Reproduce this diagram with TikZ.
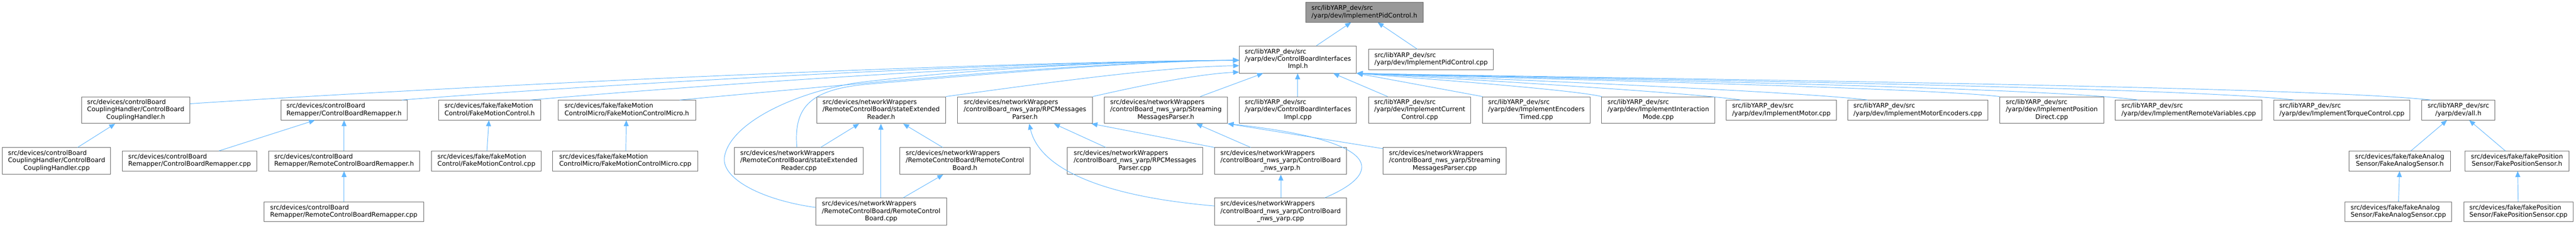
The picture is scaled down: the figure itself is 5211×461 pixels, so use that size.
\documentclass[tikz,border=0pt]{standalone}
\usepackage{fontspec}
\setmainfont{DejaVu Sans}
\usetikzlibrary{arrows.meta}
\definecolor{edgeblue}{HTML}{63B8FF}
\definecolor{boxline}{HTML}{666666}
\definecolor{rootfill}{HTML}{999999}
\newcommand{\lbA}[2]{\begin{tabular}{@{}l@{}}#1\\\multicolumn{1}{@{}c@{}}{#2}\end{tabular}}
\newcommand{\lbB}[3]{\begin{tabular}{@{}l@{}}#1\\#2\\\multicolumn{1}{@{}c@{}}{#3}\end{tabular}}
\begin{document}
\begin{tikzpicture}[x=1pt,y=-1pt,
  font=\fontsize{12.9}{15}\selectfont,
  box/.style={draw=boxline,line width=1pt,fill=white,inner sep=0pt,rectangle},
  rootbox/.style={box,fill=rootfill},
  edge/.style={draw=edgeblue,line width=1pt,-{Triangle[length=12pt,width=10pt,fill=edgeblue]}}]
\useasboundingbox[fill=white] (0,0) rectangle (5211,461);
% level 1
\node[rootbox,minimum width=238,minimum height=40] (pid) at (2760,25) {\lbA{src/libYARP\_dev/src}{/yarp/dev/ImplementPidControl.h}};
% level 2
\node[box,minimum width=237,minimum height=55] (cbiih) at (2625.5,120.5) {\lbB{src/libYARP\_dev/src}{/yarp/dev/ControlBoardInterfaces}{Impl.h}};
\node[box,minimum width=252,minimum height=41] (pidcpp) at (2895,120.5) {\lbA{src/libYARP\_dev/src}{/yarp/dev/ImplementPidControl.cpp}};
% level 3
\node[box,minimum width=219,minimum height=54] (chh) at (274.5,223) {\lbB{src/devices/controlBoard}{CouplingHandler/ControlBoard}{CouplingHandler.h}};
\node[box,minimum width=256,minimum height=40] (remh) at (696,223) {\lbA{src/devices/controlBoard}{Remapper/ControlBoardRemapper.h}};
\node[box,minimum width=207,minimum height=40] (fmch) at (990.5,223) {\lbA{src/devices/fake/fakeMotion}{Control/FakeMotionControl.h}};
\node[box,minimum width=278,minimum height=40] (fmcmh) at (1268,223) {\lbA{src/devices/fake/fakeMotion}{ControlMicro/FakeMotionControlMicro.h}};
\node[box,minimum width=261,minimum height=54] (serh) at (1782.5,223) {\lbB{src/devices/networkWrappers}{/RemoteControlBoard/stateExtended}{Reader.h}};
\node[box,minimum width=273,minimum height=54] (rpch) at (2073.5,223) {\lbB{src/devices/networkWrappers}{/controlBoard\_nws\_yarp/RPCMessages}{Parser.h}};
\node[box,minimum width=249,minimum height=54] (smph) at (2358.5,223) {\lbB{src/devices/networkWrappers}{/controlBoard\_nws\_yarp/Streaming}{MessagesParser.h}};
\node[box,minimum width=237,minimum height=54] (cbiicpp) at (2625.5,223) {\lbB{src/libYARP\_dev/src}{/yarp/dev/ControlBoardInterfaces}{Impl.cpp}};
\node[box,minimum width=206,minimum height=54] (icc) at (2872,223) {\lbB{src/libYARP\_dev/src}{/yarp/dev/ImplementCurrent}{Control.cpp}};
\node[box,minimum width=218,minimum height=54] (iet) at (3108,223) {\lbB{src/libYARP\_dev/src}{/yarp/dev/ImplementEncoders}{Timed.cpp}};
\node[box,minimum width=229,minimum height=54] (iim) at (3354.5,223) {\lbB{src/libYARP\_dev/src}{/yarp/dev/ImplementInteraction}{Mode.cpp}};
\node[box,minimum width=223,minimum height=40] (im) at (3603.5,223) {\lbA{src/libYARP\_dev/src}{/yarp/dev/ImplementMotor.cpp}};
\node[box,minimum width=283,minimum height=40] (ime) at (3879.5,223) {\lbA{src/libYARP\_dev/src}{/yarp/dev/ImplementMotorEncoders.cpp}};
\node[box,minimum width=211,minimum height=54] (ipd) at (4150.5,223) {\lbB{src/libYARP\_dev/src}{/yarp/dev/ImplementPosition}{Direct.cpp}};
\node[box,minimum width=297,minimum height=40] (irv) at (4427.5,223) {\lbA{src/libYARP\_dev/src}{/yarp/dev/ImplementRemoteVariables.cpp}};
\node[box,minimum width=275,minimum height=40] (itc) at (4737.5,223) {\lbA{src/libYARP\_dev/src}{/yarp/dev/ImplementTorqueControl.cpp}};
\node[box,minimum width=148,minimum height=40] (allh) at (4973,223) {\lbA{src/libYARP\_dev/src}{/yarp/dev/all.h}};
% level 4
\node[box,minimum width=219,minimum height=54] (chcpp) at (114.5,326) {\lbB{src/devices/controlBoard}{CouplingHandler/ControlBoard}{CouplingHandler.cpp}};
\node[box,minimum width=271,minimum height=40] (remcpp) at (383.5,326) {\lbA{src/devices/controlBoard}{Remapper/ControlBoardRemapper.cpp}};
\node[box,minimum width=306,minimum height=40] (rremh) at (696,326) {\lbA{src/devices/controlBoard}{Remapper/RemoteControlBoardRemapper.h}};
\node[box,minimum width=222,minimum height=40] (fmccpp) at (984,326) {\lbA{src/devices/fake/fakeMotion}{Control/FakeMotionControl.cpp}};
\node[box,minimum width=294,minimum height=40] (fmcmcpp) at (1265,326) {\lbA{src/devices/fake/fakeMotion}{ControlMicro/FakeMotionControlMicro.cpp}};
\node[box,minimum width=260,minimum height=54] (sercpp) at (1616,326) {\lbB{src/devices/networkWrappers}{/RemoteControlBoard/stateExtended}{Reader.cpp}};
\node[box,minimum width=264,minimum height=54] (rcbh) at (1952,326) {\lbB{src/devices/networkWrappers}{/RemoteControlBoard/RemoteControl}{Board.h}};
\node[box,minimum width=274,minimum height=54] (rpccpp) at (2296,326) {\lbB{src/devices/networkWrappers}{/controlBoard\_nws\_yarp/RPCMessages}{Parser.cpp}};
\node[box,minimum width=267,minimum height=54] (nwsh) at (2590.5,326) {\lbB{src/devices/networkWrappers}{/controlBoard\_nws\_yarp/ControlBoard}{\_nws\_yarp.h}};
\node[box,minimum width=249,minimum height=54] (smpcpp) at (2922.5,326) {\lbB{src/devices/networkWrappers}{/controlBoard\_nws\_yarp/Streaming}{MessagesParser.cpp}};
\node[box,minimum width=205,minimum height=40] (fash) at (4854.5,326) {\lbA{src/devices/fake/fakeAnalog}{Sensor/FakeAnalogSensor.h}};
\node[box,minimum width=211,minimum height=40] (fpsh) at (5091.5,326) {\lbA{src/devices/fake/fakePosition}{Sensor/FakePositionSensor.h}};
% level 5
\node[box,minimum width=323,minimum height=40] (rremcpp) at (695.5,429) {\lbA{src/devices/controlBoard}{Remapper/RemoteControlBoardRemapper.cpp}};
\node[box,minimum width=265,minimum height=55] (rcbcpp) at (1782.5,428.5) {\lbB{src/devices/networkWrappers}{/RemoteControlBoard/RemoteControl}{Board.cpp}};
\node[box,minimum width=267,minimum height=55] (nwscpp) at (2590.5,428.5) {\lbB{src/devices/networkWrappers}{/controlBoard\_nws\_yarp/ControlBoard}{\_nws\_yarp.cpp}};
\node[box,minimum width=215,minimum height=40] (fascpp) at (4851.5,429) {\lbA{src/devices/fake/fakeAnalog}{Sensor/FakeAnalogSensor.cpp}};
\node[box,minimum width=221,minimum height=40] (fpscpp) at (5094.5,429) {\lbA{src/devices/fake/fakePosition}{Sensor/FakePositionSensor.cpp}};
% edges to root
\draw[edge] (cbiih.north -| 2663,0) -- (pid.south -| 2733,0);
\draw[edge] (pidcpp.north -| 2867,0) -- (pid.south -| 2787,0);
% edges to ControlBoardInterfacesImpl.h from the left
\draw[edge] (chh.east |- 0,210) .. controls (1000,170) and (2000,125) .. (cbiih.west |- 0,122);
\draw[edge] (remh.north -| 813,0) .. controls (1250,168) and (2050,125) .. (cbiih.west |- 0,122);
\draw[edge] (fmch.north -| 1072,0) .. controls (1450,170) and (2100,125) .. (cbiih.west |- 0,122);
\draw[edge] (fmcmh.north -| 1375,0) .. controls (1750,168) and (2200,125) .. (cbiih.west |- 0,122);
\draw[edge] (serh.north east) .. controls (2100,170) and (2350,135) .. (cbiih.west |- 0,133);
\draw[edge] (rpch.north east) .. controls (2300,175) and (2420,150) .. (cbiih.west |- 0,146);
\draw[edge] (sercpp.north -| 1612,0) .. controls (1605,215) and (1640,180) .. (1760,170) .. controls (2000,150) and (2300,124) .. (cbiih.west |- 0,122);
\draw[edge] (rcbcpp.west |- 0,420) .. controls (1540,405) and (1455,360) .. (1466,315) .. controls (1480,250) and (1600,190) .. (1730,168) .. controls (2000,135) and (2300,124) .. (cbiih.west |- 0,122);
\draw[edge] (smph.north -| 2428,0) -- (cbiih.south -| 2555,0);
\draw[edge] (cbiicpp.north -| 2625,0) -- (cbiih.south -| 2625,0);
\draw[edge] (icc.north -| 2807,0) -- (cbiih.south -| 2697,0);
% edges to ControlBoardInterfacesImpl.h from the right
\draw[edge] (iet.north -| 2999,0) -- (cbiih.south east);
\draw[edge] (iim.north -| 3240,0) .. controls +(-60,-14) and +(150,12) .. (cbiih.south east);
\draw[edge] (im.north -| 3522,0) .. controls +(-93,-14) and +(233,12) .. (cbiih.south east);
\draw[edge] (ime.north -| 3778,0) .. controls +(-124,-16) and +(310,12) .. (cbiih.south east);
\draw[edge] (ipd.north -| 4045,0) .. controls +(-156,-18) and +(390,12) .. (cbiih.south east);
\draw[edge] (irv.north -| 4325,0) .. controls +(-190,-26) and +(474,12) .. (cbiih.south east);
\draw[edge] (itc.north -| 4642,0) .. controls +(-228,-26) and +(569,12) .. (cbiih.south east);
\draw[edge] (allh.north -| 4918,0) .. controls +(-260,-28) and +(652,12) .. (cbiih.south east);
% lower edges
\draw[edge] (chcpp.north -| 157,0) -- (chh.south -| 233,0);
\draw[edge] (remcpp.north -| 443,0) -- (remh.south -| 637,0);
\draw[edge] (rremh.north -| 696,0) -- (remh.south -| 696,0);
\draw[edge] (rremcpp.north -| 696,0) -- (rremh.south -| 696,0);
\draw[edge] (fmccpp.north -| 985,0) -- (fmch.south -| 989,0);
\draw[edge] (fmcmcpp.north -| 1266,0) -- (fmcmh.south -| 1267,0);
\draw[edge] (sercpp.north -| 1660,0) -- (serh.south -| 1738,0);
\draw[edge] (rcbh.north -| 1907,0) -- (serh.south -| 1827,0);
\draw[edge] (rcbcpp.north -| 1782,0) -- (serh.south -| 1782,0);
\draw[edge] (rcbcpp.north -| 1827,0) -- (rcbh.south -| 1908,0);
\draw[edge] (rpccpp.north -| 2237,0) -- (rpch.south -| 2132,0);
\draw[edge] (nwsh.north west) -- (rpch.south -| 2208,0);
\draw[edge] (nwscpp.west |- 0,417) .. controls (2200,395) and (2100,330) .. (rpch.south -| 2082,0);
\draw[edge] (nwsh.north -| 2530,0) -- (smph.south -| 2420,0);
\draw[edge] (smpcpp.west |- 0,301) -- (smph.south east);
\draw[edge] (nwscpp.north -| 2680,0) .. controls (2800,350) and (2800,285) .. (smph.south east);
\draw[edge] (nwscpp.north -| 2591,0) -- (nwsh.south -| 2591,0);
\draw[edge] (fash.north -| 4877,0) -- (allh.south -| 4950,0);
\draw[edge] (fpsh.north -| 5068,0) -- (allh.south -| 4995,0);
\draw[edge] (fascpp.north -| 4852,0) -- (fash.south -| 4854,0);
\draw[edge] (fpscpp.north -| 5094,0) -- (fpsh.south -| 5093,0);
\end{tikzpicture}
\end{document}
